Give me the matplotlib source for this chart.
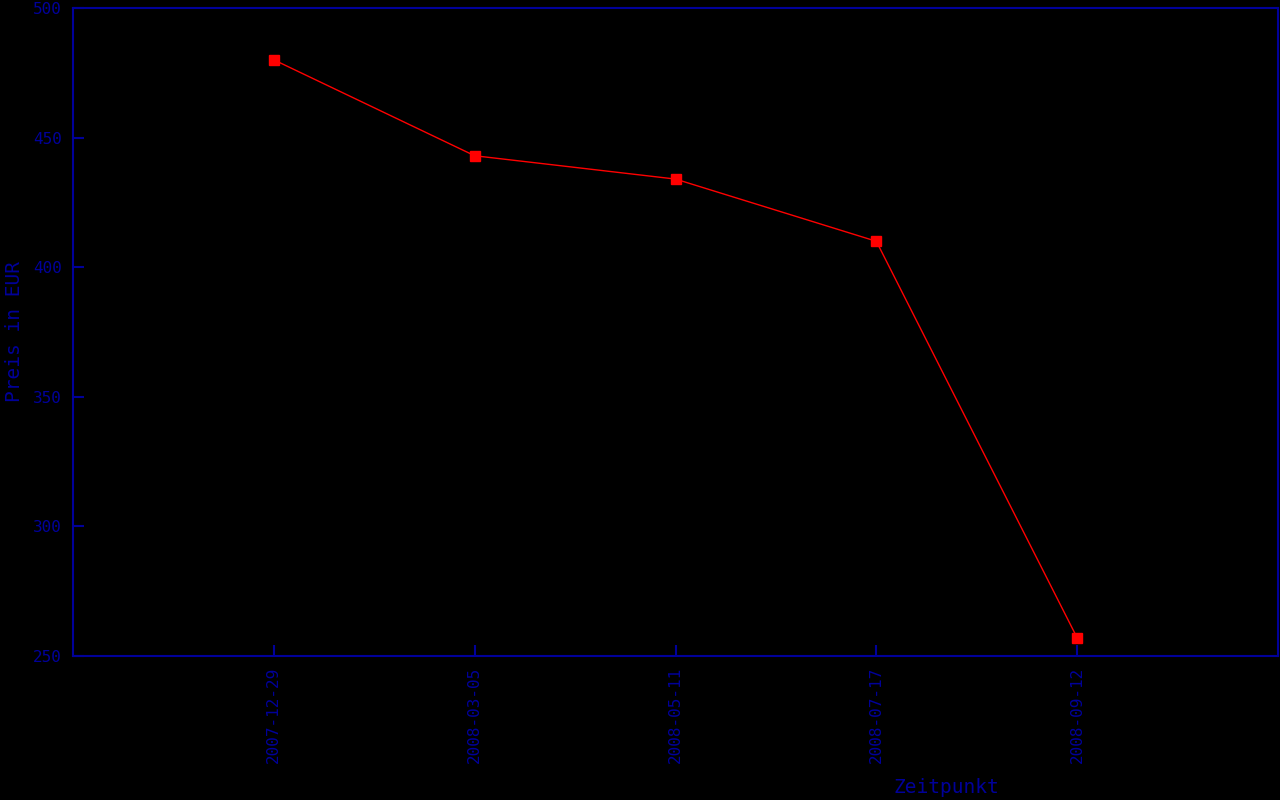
import matplotlib
matplotlib.use("Agg")
import matplotlib.pyplot as plt

dates = ["2007-12-29", "2008-03-05", "2008-05-11", "2008-07-17", "2008-09-12"]
prices = [480, 443, 434, 410, 257]
y_ticks = [250, 300, 350, 400, 450, 500]

blue = "#00009a"
fig = plt.figure(figsize=(12.8, 8), dpi=100, facecolor="black")
ax = fig.add_axes([73/1280, 0.18, 1205/1280, 0.81], facecolor="black")

x = list(range(1, len(dates) + 1))
ax.plot(x, prices, color="#ff0000", lw=1, marker="s", ms=7, mec="#ff0000", mfc="#ff0000")

ax.set_xlim(0, len(dates) + 1)
ax.set_ylim(250, 500)
ax.set_xticks(x)
ax.set_xticklabels(dates, rotation=90, family="DejaVu Sans Mono", fontsize=11.5, color=blue)
ax.set_yticks(y_ticks)
ax.set_yticklabels([str(v) for v in y_ticks], family="DejaVu Sans Mono", fontsize=11.5, color=blue)
ax.tick_params(direction="in", color=blue, length=8, width=1.5, pad=8)
for s in ax.spines.values():
    s.set_color(blue)
    s.set_linewidth(1.5)

ax.set_xlabel("Zeitpunkt", family="DejaVu Sans Mono", fontsize=14, color=blue)
ax.xaxis.set_label_coords(0.7245, -0.188)
ax.set_ylabel("Preis in EUR", family="DejaVu Sans Mono", fontsize=14, color=blue)
ax.yaxis.set_label_coords(-0.041, 0.5)

fig.savefig("out.png", dpi=100, facecolor="black")
